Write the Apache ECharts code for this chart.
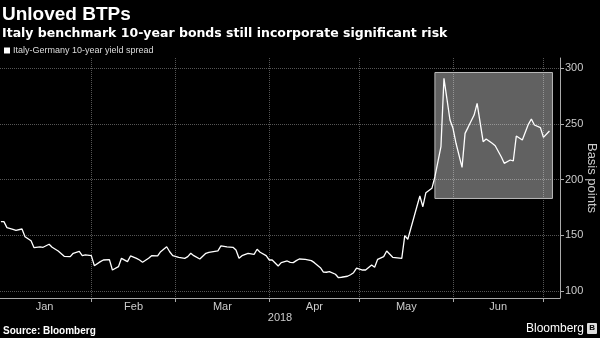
<!DOCTYPE html>
<html><head><meta charset="utf-8">
<script src="https://cdn.jsdelivr.net/npm/echarts@6/dist/echarts.min.js"></script>
<style>html,body{margin:0;padding:0;background:#000}#c{width:600px;height:338px}</style>
</head><body><div id="c"></div>
<script>
// ---- data ----
const dates = [
'2018-01-02','2018-01-03','2018-01-04','2018-01-06','2018-01-07','2018-01-09','2018-01-10','2018-01-12','2018-01-13','2018-01-15','2018-01-16','2018-01-18','2018-01-19','2018-01-21','2018-01-23','2018-01-25','2018-01-26','2018-01-28','2018-01-29','2018-01-30',
'2018-02-01','2018-02-02','2018-02-04','2018-02-05','2018-02-07','2018-02-08','2018-02-10','2018-02-11','2018-02-13','2018-02-14','2018-02-16','2018-02-17','2018-02-18','2018-02-20','2018-02-21','2018-02-23','2018-02-24','2018-02-26','2018-02-27','2018-02-28',
'2018-03-02','2018-03-04','2018-03-05','2018-03-06','2018-03-07','2018-03-09','2018-03-11','2018-03-12','2018-03-15','2018-03-16','2018-03-18','2018-03-20','2018-03-21','2018-03-22','2018-03-23','2018-03-25','2018-03-27','2018-03-28','2018-03-29','2018-03-31',
'2018-04-01','2018-04-02','2018-04-04','2018-04-05','2018-04-07','2018-04-08','2018-04-09','2018-04-10','2018-04-11','2018-04-13','2018-04-15','2018-04-16','2018-04-18','2018-04-19','2018-04-20','2018-04-21','2018-04-23','2018-04-24','2018-04-25','2018-04-27','2018-04-28','2018-04-29','2018-04-30',
'2018-05-02','2018-05-03','2018-05-05','2018-05-06','2018-05-07','2018-05-09','2018-05-10','2018-05-12','2018-05-15','2018-05-16','2018-05-17','2018-05-21','2018-05-22','2018-05-23','2018-05-25','2018-05-26','2018-05-28','2018-05-29','2018-05-31',
'2018-06-01','2018-06-02','2018-06-04','2018-06-05','2018-06-06','2018-06-08','2018-06-09','2018-06-11','2018-06-12','2018-06-14','2018-06-15','2018-06-17','2018-06-18','2018-06-20','2018-06-21','2018-06-22','2018-06-24','2018-06-26','2018-06-27','2018-06-28','2018-06-30',
'2018-07-01','2018-07-03'
];
const spread = [
162.2,162.2,156.8,155.3,154.4,155.6,148.7,145.1,138.8,139.5,139.2,141.9,139.2,135.9,131.1,130.8,133.8,135.6,131.7,132.3,
131.7,122.7,126.3,127.8,128.1,118.8,121.8,129.3,126.3,131.4,129.3,127.8,125.7,129.3,131.7,131.4,135.2,139.7,135.2,131.7,
130.2,129.3,130.8,133.8,131.7,128.7,133.8,134.7,135.9,140.4,139.5,139.2,136.8,129.3,131.7,133.8,132.9,137.4,134.7,131.7,
127.8,127.8,122.4,125.4,126.9,125.7,125.4,127.2,128.7,128.4,127.2,125.4,120.9,117.0,116.8,117.3,115.0,111.9,112.3,113.2,114.6,116.4,120.4,
118.8,118.8,123.3,121.3,128.4,130.8,135.9,130.2,129.3,149.6,146.4,185.2,175.6,188.2,192.1,202.5,229.4,290.8,253.4,
245.9,232.5,210.9,241.4,246.8,257.8,268.3,233.9,236.3,232.5,230.3,220.4,214.5,217.5,216.6,239.0,235.4,249.5,254.3,248.9,246.5,
237.8,243.5
];
const monthBounds = ['2018-01-01','2018-02-01','2018-03-01','2018-04-01','2018-05-01','2018-06-01','2018-07-01'];
const monthNames = ['Jan','Feb','Mar','Apr','May','Jun'];
const yTicks = [100,150,200,250,300];
const highlightDates = ['2018-05-26','2018-07-04'];
const highlightRange = [183,296];
const seriesName = 'Italy-Germany 10-year yield spread';

// ---- helpers ----
const DAY = 86400000, ORIGIN = Date.UTC(2018,0,1);
function dayNum(s){ const p = s.split('-').map(Number); return (Date.UTC(p[0],p[1]-1,p[2]) - ORIGIN)/DAY; }
const boundDays = monthBounds.map(dayNum);
const midDays = monthNames.map((m,i)=> (boundDays[i]+boundDays[i+1])/2);
const seriesData = dates.map((d,i)=>[dayNum(d), spread[i]]);

const chart = echarts.init(document.getElementById('c'), null, {renderer:'canvas'});
const FONT = 'Liberation Sans';
chart.setOption({
  backgroundColor:'#000',
  animation:false,
  textStyle:{fontFamily:FONT},
  title:{
    text:'Unloved BTPs',
    subtext:'Italy benchmark 10-year bonds still incorporate significant risk',
    left:2, top:5, padding:0, itemGap:3,
    textStyle:{fontFamily:FONT, fontSize:19, fontWeight:'bold', color:'#fff'},
    subtextStyle:{fontFamily:'DejaVu Sans', fontSize:12.5, fontWeight:'bold', color:'#fff'}
  },
  legend:{
    left:4, top:46, padding:0, icon:'rect', itemWidth:6, itemHeight:6,
    textStyle:{fontFamily:FONT, fontSize:9, color:'#ddd', padding:[0,0,0,-2]},
    data:[seriesName]
  },
  grid:{left:0, right:40, top:58, bottom:40, containLabel:false, outerBoundsMode:'none'},
  xAxis:{
    type:'value', min:0.7, max:186.5,
    name:'2018', nameLocation:'middle', nameGap:14, nameMoveOverlap:false,
    nameTextStyle:{fontFamily:FONT, fontSize:11, color:'#ccc'},
    axisLine:{show:true, lineStyle:{color:'#aaa', width:1}},
    axisTick:{show:true, length:4, customValues:boundDays, lineStyle:{color:'#aaa'}},
    axisLabel:{show:true, customValues:midDays, margin:3, fontFamily:FONT, fontSize:11, color:'#ccc',
      formatter:function(v){ let i=0; while(i<monthNames.length-1 && v>=boundDays[i+1]) i++; return monthNames[i]; }},
    splitLine:{show:true, lineStyle:{color:'#555', type:'dotted', width:1}}
  },
  yAxis:{
    type:'value', position:'right', min:93.7, max:309,
    name:'Basis points', nameLocation:'middle', nameRotate:-90, nameGap:25, nameMoveOverlap:false,
    nameTextStyle:{fontFamily:FONT, fontSize:13, color:'#ccc'},
    axisLine:{show:true, lineStyle:{color:'#aaa', width:1}},
    axisTick:{show:true, length:4, customValues:yTicks, lineStyle:{color:'#aaa'}},
    axisLabel:{show:true, customValues:yTicks, margin:5, fontFamily:FONT, fontSize:11, color:'#ccc'},
    splitLine:{show:true, lineStyle:{color:'#555', type:'dotted', width:1}}
  },
  series:[{
    name:seriesName, type:'line', data:seriesData, symbol:'none',
    lineStyle:{color:'#fff', width:1.3}, itemStyle:{color:'#fff'},
    markArea:{silent:true,
      itemStyle:{color:'rgba(255,255,255,0.38)', borderColor:'#bbb', borderWidth:1},
      data:[[{coord:[dayNum(highlightDates[0]), highlightRange[0]]},{coord:[dayNum(highlightDates[1]), highlightRange[1]]}]]
    }
  }],
  graphic:[
    {type:'text', left:3, top:326, style:{text:'Source: Bloomberg', fill:'#fff', font:'bold 10px "Liberation Sans"'}},
    {type:'text', right:16, top:323, style:{text:'Bloomberg', fill:'#fff', font:'12px "Liberation Sans"'}},
    {type:'rect', right:3, top:323, shape:{width:10, height:11, r:1}, style:{fill:'#ddd'}},
    {type:'text', right:5, top:324, style:{text:'B', fill:'#000', font:'bold 8px "Liberation Sans"'}}
  ]
});
</script></body></html>
